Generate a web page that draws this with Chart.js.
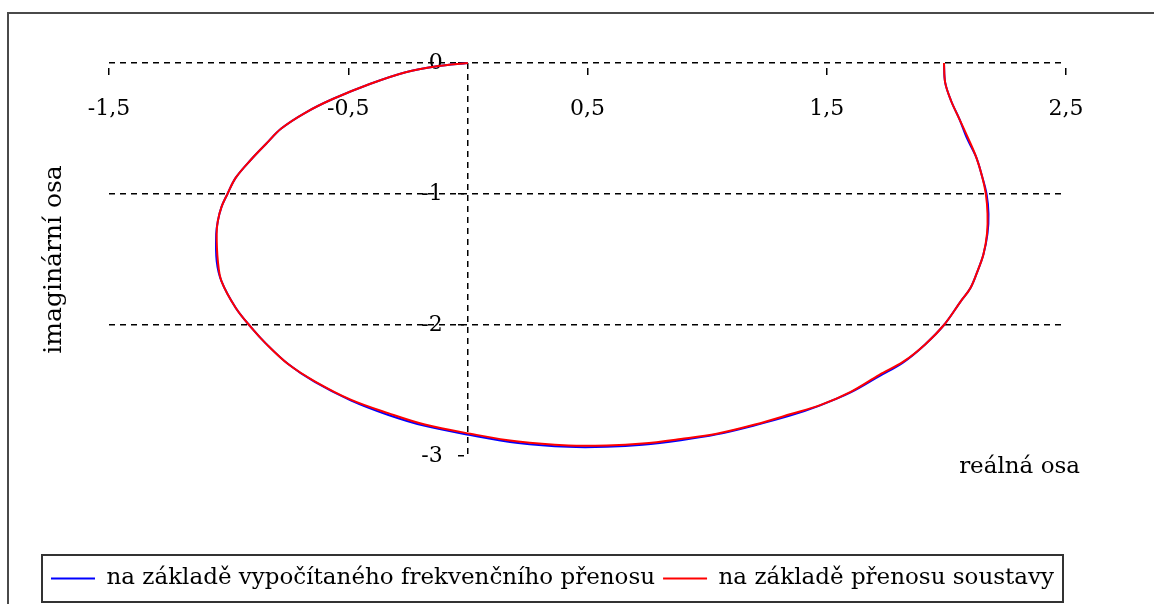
<!DOCTYPE html>
<html>
<head>
<meta charset="utf-8">
<script src="https://cdn.jsdelivr.net/npm/chart.js@4.4.1/dist/chart.umd.min.js"></script>
<style>
  html, body { margin: 0; padding: 0; background: #fff; overflow: hidden; }
  #wrap { position: relative; width: 1154px; height: 604px; }
  #frame { position: absolute; left: 7px; top: 12px; width: 1200px; height: 700px; border: 2px solid #4a4a4a; }
  canvas { position: absolute; left: 0; top: 0; }
</style>
</head>
<body>
<div id="wrap">
  <div id="frame"></div>
  <canvas id="nyquist" width="1154" height="604"></canvas>
</div>
<script>
// --- data ---
const seriesNames = ["na základě vypočítaného frekvenčního přenosu", "na základě přenosu soustavy"];

// red: na základě přenosu soustavy
const redRe = [1.99, 1.995, 2.02, 2.055, 2.09, 2.125, 2.15, 2.165, 2.172, 2.17, 2.155, 2.13, 2.10, 2.06,
  1.99, 1.91, 1.82, 1.72, 1.60, 1.475, 1.35, 1.20, 1.04, 0.89, 0.73, 0.58, 0.42, 0.21, 0.01,
  -0.18, -0.33, -0.49, -0.64, -0.75, -0.845, -0.905, -0.97, -1.03, -1.045, -1.05, -1.045, -1.03, -1.005,
  -0.97, -0.905, -0.845, -0.78, -0.68, -0.565, -0.41, -0.26, -0.13, 0];
const redIm = [0, -0.15, -0.29, -0.43, -0.57, -0.72, -0.87, -1.0, -1.15, -1.3, -1.46, -1.59, -1.72, -1.82,
  -2.0, -2.15, -2.28, -2.38, -2.51, -2.61, -2.68, -2.76, -2.83, -2.87, -2.905, -2.92, -2.92, -2.89, -2.83,
  -2.76, -2.675, -2.57, -2.43, -2.30, -2.14, -2.02, -1.87, -1.665, -1.51, -1.305, -1.205, -1.10, -1.0,
  -0.875, -0.735, -0.62, -0.5, -0.38, -0.275, -0.16, -0.07, -0.025, 0];

// blue: na základě vypočítaného frekvenčního přenosu (almost hidden under red)
const blueRe = [1.99, 1.995, 2.02, 2.055, 2.085, 2.125, 2.15, 2.168, 2.176, 2.172, 2.155, 2.13, 2.10, 2.06,
  1.99, 1.91, 1.82, 1.72, 1.60, 1.47, 1.35, 1.20, 1.04, 0.89, 0.73, 0.58, 0.42, 0.21, 0.01,
  -0.18, -0.335, -0.49, -0.64, -0.75, -0.845, -0.905, -0.97, -1.03, -1.05, -1.052, -1.045, -1.03, -1.005,
  -0.97, -0.905, -0.845, -0.78, -0.68, -0.565, -0.41, -0.26, -0.13, 0];
const blueIm = [0, -0.15, -0.29, -0.43, -0.57, -0.72, -0.87, -1.0, -1.15, -1.3, -1.46, -1.59, -1.72, -1.82,
  -2.0, -2.15, -2.285, -2.39, -2.515, -2.615, -2.69, -2.765, -2.835, -2.88, -2.915, -2.93, -2.93, -2.9, -2.84,
  -2.77, -2.685, -2.575, -2.435, -2.30, -2.14, -2.02, -1.87, -1.665, -1.51, -1.305, -1.205, -1.10, -1.0,
  -0.875, -0.735, -0.62, -0.5, -0.38, -0.275, -0.16, -0.07, -0.025, 0];

const xTickValues = [-1.5, -0.5, 0, 0.5, 1.5, 2.5];
const xTickLabels = ["-1,5", "-0,5", "", "0,5", "1,5", "2,5"];
const yTickValues = [0, -1, -2, -3];
const yTickLabels = ["0", "-1", "-2", "-3"];

const xTitle = "reálná osa";
const yTitle = "imaginární osa";

function toPoints(xs, ys) {
  return xs.map((x, i) => ({ x: x, y: ys[i] }));
}

const serif = "'DejaVu Serif', 'Liberation Serif', serif";
const dash = [6, 5];
// y labels sit a little left of the imaginary axis (which is the x grid line at 0)
const yLabelAnchor = -0.105;

// frame round the legend + nudge the x axis title a bit past the plot edge
const legendFrame = {
  id: "legendFrame",
  afterLayout(chart) {
    chart.boxes.forEach((b) => {
      if (b.options && b.options.text === xTitle) {
        b.left += 14;
        b.right += 14;
      }
    });
  },
  afterDraw(chart) {
    const lg = chart.legend;
    const ctx = chart.ctx;
    ctx.save();
    ctx.strokeStyle = "#333";
    ctx.lineWidth = 2;
    ctx.strokeRect(lg.left + 3, lg.top - 4, lg.width - 6, lg.height + 6);
    ctx.restore();
  }
};

new Chart(document.getElementById("nyquist"), {
  type: "scatter",
  data: {
    datasets: [
      {
        label: seriesNames[0],
        data: toPoints(blueRe, blueIm),
        showLine: true,
        borderColor: "#0000ff",
        backgroundColor: "#0000ff",
        borderWidth: 2,
        pointRadius: 0,
        tension: 0.35,
        clip: false,
        order: 1
      },
      {
        label: seriesNames[1],
        data: toPoints(redRe, redIm),
        showLine: true,
        borderColor: "#ff0000",
        backgroundColor: "#ff0000",
        borderWidth: 2,
        pointRadius: 0,
        tension: 0.35,
        clip: false,
        order: 0
      }
    ]
  },
  options: {
    responsive: false,
    animation: false,
    layout: { padding: { left: 39, right: 88, top: 63, bottom: 4 } },
    scales: {
      x: {
        type: "linear",
        position: { y: 0 },
        min: -1.5,
        max: 2.5,
        afterBuildTicks: (scale) => { scale.ticks = xTickValues.map(v => ({ value: v })); },
        ticks: {
          autoSkip: false,
          maxRotation: 0,
          padding: 21,
          color: "#000",
          font: { family: serif, size: 22 },
          callback: (value) => xTickLabels[xTickValues.indexOf(value)]
        },
        grid: {
          drawOnChartArea: true,
          color: (c) => (c.tick && c.tick.value === 0 ? "#000" : "rgba(0,0,0,0)"),
          lineWidth: 1.5,
          tickColor: (c) => (c.tick && c.tick.value === 0 ? "rgba(0,0,0,0)" : "#000"),
          tickLength: 12,
          tickBorderDash: [0, 5, 7, 50]
        },
        border: { display: false, dash: dash }
      },
      y: {
        type: "linear",
        position: { x: yLabelAnchor },
        min: -3,
        max: 0,
        afterBuildTicks: (scale) => { scale.ticks = yTickValues.map(v => ({ value: v })); },
        ticks: {
          autoSkip: false,
          padding: 0,
          color: "#000",
          font: { family: serif, size: 22 },
          callback: (value) => yTickLabels[yTickValues.indexOf(value)]
        },
        grid: {
          color: (c) => (c.tick && c.tick.value === -3 ? "rgba(0,0,0,0)" : "#000"),
          lineWidth: 1.5,
          tickColor: "#000",
          tickLength: -21,
          tickBorderDash: [0, 15, 6, 50]
        },
        border: { display: false, dash: dash }
      }
    },
    plugins: {
      legend: {
        position: "bottom",
        labels: {
          usePointStyle: true,
          pointStyle: "line",
          pointStyleWidth: 44,
          padding: 8,
          color: "#000",
          font: { family: serif, size: 23 },
          sort: (a, b) => a.datasetIndex - b.datasetIndex
        }
      },
      title: {
        display: true,
        text: yTitle,
        position: "left",
        fullSize: false,
        color: "#000",
        font: { family: serif, size: 25, weight: "normal", lineHeight: 1.2 },
        padding: { top: 0, bottom: 40 }
      },
      subtitle: {
        display: true,
        text: xTitle,
        position: "bottom",
        align: "end",
        fullSize: false,
        weight: 500,
        color: "#000",
        font: { family: serif, size: 23, weight: "normal", lineHeight: 1 },
        padding: { top: 0, bottom: 80 }
      },
      tooltip: { enabled: false }
    }
  },
  plugins: [legendFrame]
});
</script>
</body>
</html>
